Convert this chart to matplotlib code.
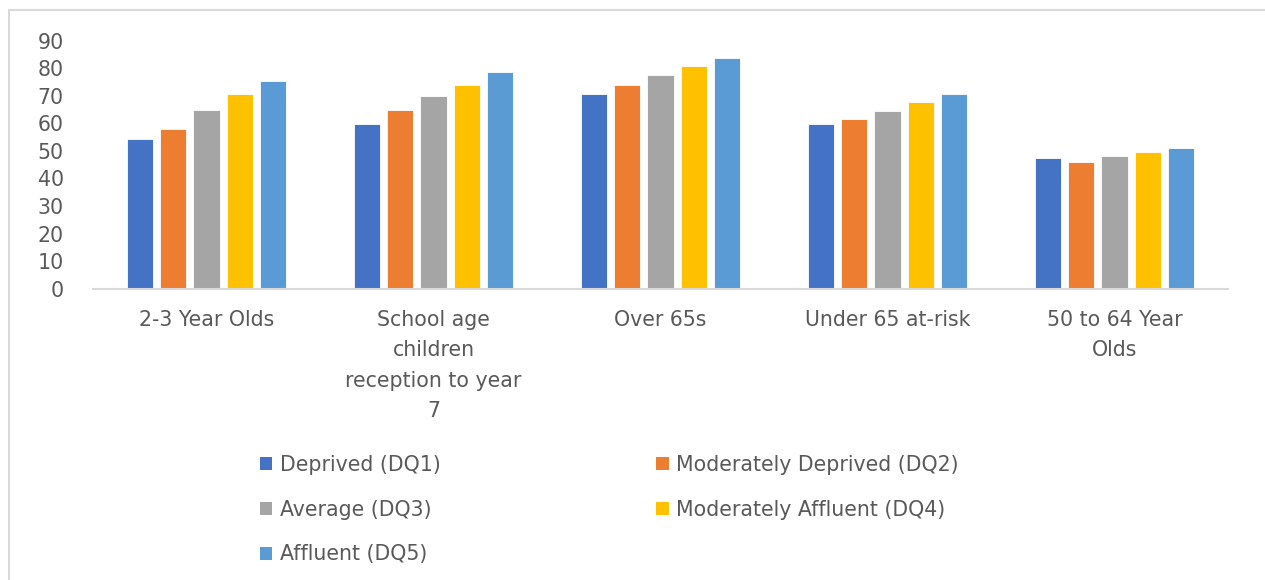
import matplotlib
matplotlib.use("Agg")
import matplotlib.pyplot as plt
import numpy as np
from matplotlib.patches import Rectangle, Patch

categories = ["2-3 Year Olds", "School age\nchildren\nreception to year\n7", "Over 65s",
              "Under 65 at-risk", "50 to 64 Year\nOlds"]
series_names = ["Deprived (DQ1)", "Moderately Deprived (DQ2)", "Average (DQ3)",
                "Moderately Affluent (DQ4)", "Affluent (DQ5)"]
dq1 = [54.4, 59.8, 70.7, 59.8, 47.4]
dq2 = [58.0, 64.7, 73.9, 61.6, 46.0]
dq3 = [64.9, 70.1, 77.7, 64.5, 48.3]
dq4 = [70.7, 73.9, 80.8, 67.8, 49.7]
dq5 = [75.3, 78.5, 83.6, 70.7, 51.1]
yticks = [0, 10, 20, 30, 40, 50, 60, 70, 80, 90]

colors = ["#4472C4", "#ED7D31", "#A5A5A5", "#FFC000", "#5B9BD5"]
series = [dq1, dq2, dq3, dq4, dq5]

plt.rcParams['font.family'] = ['DejaVu Sans']
txt = "#595959"
fs = 14.8

fig = plt.figure(figsize=(12.65, 5.8), dpi=100)
ax = fig.add_axes([93/1265, 1-288.7/580, (1228-93)/1265, (288.7-40.7)/580])

x = np.arange(len(categories))
step = 33.3/227
width = 26.3/227
for i, (vals, c) in enumerate(zip(series, colors)):
    ax.bar(x + (i-2)*step, vals, width=width, color=c, edgecolor="white",
           linewidth=0.6, label=series_names[i], zorder=2)

ax.set_xlim(-0.5, len(categories)-0.5)
ax.set_ylim(0, 90)
ax.set_yticks(yticks)
ax.set_xticks(x)
ax.set_xticklabels(categories, linespacing=1.66)
ax.tick_params(axis='both', length=0, labelsize=fs, colors=txt)
ax.tick_params(axis='x', pad=15)
ax.tick_params(axis='y', pad=21)
for s in ['top', 'right', 'left']:
    ax.spines[s].set_visible(False)
ax.spines['bottom'].set_color("#d9d9d9")
ax.spines['bottom'].set_linewidth(1.5)

# outer chart border
fig.patches.append(Rectangle((9/1265, -0.05), 1.1, 1-10/580+0.05, transform=fig.transFigure,
                             fill=False, edgecolor="#d9d9d9", linewidth=1.5))

handles = [Patch(facecolor=c) for c in colors]
order = [0, 2, 4, 1, 3]
leg = fig.legend([handles[i] for i in order], [series_names[i] for i in order],
                 ncol=2, loc='upper left', bbox_to_anchor=(260/1265, 1-455/580),
                 frameon=False, fontsize=fs, handlelength=0.6, handleheight=0.6,
                 handletextpad=0.35, labelspacing=1.2, columnspacing=10.5,
                 borderaxespad=0, borderpad=0)
for t in leg.get_texts():
    t.set_color(txt)

fig.savefig("out.png", dpi=100)
